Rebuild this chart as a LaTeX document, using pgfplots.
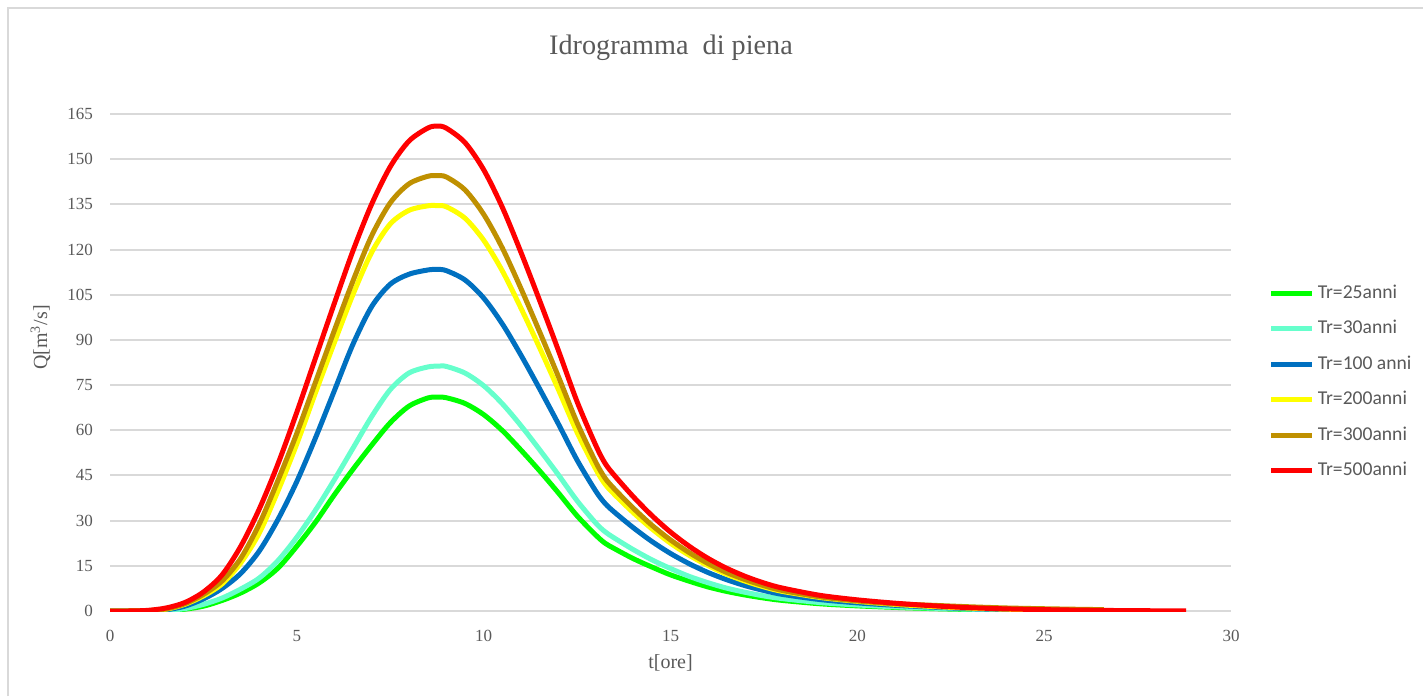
\documentclass[border=0pt]{standalone}
\usepackage{fontspec}
\setmainfont{Liberation Serif}
\newfontfamily\carlito{Carlito}
\usepackage{pgfplots}
\usepackage{pgfplotstable}
\pgfplotsset{compat=1.18}
\definecolor{cgreen}{HTML}{00FF00}
\definecolor{ccyan}{HTML}{66FFCC}
\definecolor{cblue}{HTML}{0070C0}
\definecolor{cyellow}{HTML}{FFFF00}
\definecolor{cbrown}{HTML}{BF9000}
\definecolor{cred}{HTML}{FF0000}
\definecolor{txt}{HTML}{595959}
\definecolor{gridc}{HTML}{D9D9D9}

\pgfplotstableread{
t Q
0 0
0.5 0
1.0 0
1.5 0.15
2.0 0.6
2.5 1.6
3.0 3.5
3.5 6
4.0 9.4
4.5 14.3
5.0 21.5
5.5 29.5
6.0 38.5
6.5 47
7.0 55
7.5 62.5
8.0 68
8.5 70.7
8.75 71
9.0 70.8
9.5 68.9
10.0 65.2
10.5 59.9
11.0 53.4
11.5 46.5
12.0 39.2
12.5 31.6
13.0 25.2
13.25 22.5
13.5 20.7
14.0 17.4
14.5 14.6
15.0 12.0
15.5 9.9
16.0 8.0
16.5 6.5
17.0 5.3
17.5 4.3
18.0 3.5
19.0 2.4
20.0 1.7
21.0 1.2
22.0 0.8
23.0 0.5
24.0 0.32
}\tgreen

\pgfplotstableread{
t Q
0 0
0.5 0
1.0 0
1.5 0.2
2.0 0.8
2.5 2.2
3.0 4.3
3.5 7.3
4.0 11
4.5 16.8
5.0 24.5
5.5 33.5
6.0 43.5
6.5 54
7.0 64.5
7.5 73.5
8.0 79
8.5 81
8.8 81.3
9.0 81.2
9.5 79.0
10.0 74.8
10.5 68.8
11.0 61.5
11.5 53.5
12.0 45.2
12.5 36.6
13.0 29.2
13.25 26.3
13.5 24.2
14.0 20.4
14.5 17.0
15.0 14.1
15.5 11.5
16.0 9.4
16.5 7.6
17.0 6.2
17.5 5.0
18.0 4.1
19.0 2.8
20.0 2.0
21.0 1.4
22.0 0.94
23.0 0.6
24.0 0.38
25.0 0.24
}\tcyan

\pgfplotstableread{
t Q
0 0
0.5 0
1.0 0.05
1.5 0.4
2.0 1.6
2.5 4
3.0 7.5
3.5 12.5
4.0 20
4.5 30.5
5.0 43
5.5 57.5
6.0 73
6.5 88.5
7.0 101
7.5 108.5
8.0 111.8
8.5 113.2
8.75 113.4
9.0 113.0
9.5 109.9
10.0 103.9
10.5 95.3
11.0 84.9
11.5 73.7
12.0 62.1
12.5 50.1
13.0 39.8
13.25 35.7
13.5 32.8
14.0 27.7
14.5 23.1
15.0 19.1
15.5 15.7
16.0 12.8
16.5 10.4
17.0 8.4
17.5 6.8
18.0 5.5
19.0 3.8
20.0 2.7
21.0 1.9
22.0 1.28
23.0 0.8
24.0 0.5
25.0 0.33
}\tblue

\pgfplotstableread{
t Q
0 0
0.5 0
1.0 0.1
1.5 0.6
2.0 2.2
2.5 5
3.0 9
3.5 16
4.0 26
4.5 40
5.0 55.5
5.5 72.5
6.0 89
6.5 105
7.0 119
7.5 128.5
8.0 133
8.5 134.5
8.75 134.6
9.0 134.2
9.5 130.4
10.0 123.1
10.5 112.9
11.0 100.5
11.5 87.3
12.0 73.5
12.5 59.3
13.0 47.1
13.25 42.1
13.5 38.7
14.0 32.7
14.5 27.3
15.0 22.5
15.5 18.5
16.0 15.1
16.5 12.2
17.0 9.9
17.5 8.0
18.0 6.5
19.0 4.5
20.0 3.2
21.0 2.2
22.0 1.5
23.0 0.95
24.0 0.6
25.0 0.39
26.0 0.24
}\tyellow

\pgfplotstableread{
t Q
0 0
0.5 0
1.0 0.1
1.5 0.7
2.0 2.4
2.5 5.5
3.0 10
3.5 17.5
4.0 29
4.5 43.5
5.0 59
5.5 76
6.0 93
6.5 109.5
7.0 124.5
7.5 135.5
8.0 141.8
8.5 144.3
8.75 144.5
9.0 144.1
9.5 139.8
10.0 131.7
10.5 120.5
11.0 107
11.5 92.6
12.0 77.8
12.5 62.5
13.0 49.4
13.25 44.1
13.5 40.5
14.0 34.2
14.5 28.5
15.0 23.6
15.5 19.4
16.0 15.8
16.5 12.8
17.0 10.4
17.5 8.4
18.0 6.8
19.0 4.7
20.0 3.35
21.0 2.4
22.0 1.9
23.0 1.4
24.0 1.0
25.0 0.75
26.0 0.55
26.6 0.45
}\tbrown

\pgfplotstableread{
t Q
0 0
0.5 0
1.0 0.2
1.5 1.0
2.0 2.8
2.5 6.3
3.0 12
3.5 21.5
4.0 34
4.5 49
5.0 66
5.5 84
6.0 102
6.5 119.5
7.0 135
7.5 147.5
8.0 156
8.5 160.3
8.75 161
9.0 160.3
9.5 155.5
10.0 146.5
10.5 134
11.0 119
11.5 103
12.0 86.5
12.5 69.5
13.0 55
13.25 49
13.5 45
14.0 38
14.5 31.7
15.0 26.2
15.5 21.5
16.0 17.5
16.5 14.2
17.0 11.5
17.5 9.3
18.0 7.6
19.0 5.2
20.0 3.7
21.0 2.6
22.0 1.75
23.0 1.1
24.0 0.7
25.0 0.45
26.0 0.28
27.0 0.15
28.0 0.07
28.8 0
}\tred

\begin{document}
\begin{tikzpicture}
\useasboundingbox (0,0) rectangle (711.5pt,348pt);
\draw[gridc, line width=1pt] (4pt,0) -- (4pt,344pt) -- (711.5pt,344pt);
\node[txt, font=\fontsize{14.1}{16}\selectfont] at (335.5pt,324pt) {Idrogramma\ \ di piena};
\begin{axis}[
  at={(55pt,42.5pt)}, anchor=south west,
  scale only axis, width=560.5pt, height=248.5pt,
  xmin=0, xmax=30, ymin=0, ymax=165,
  xtick={0,5,...,30}, ytick={0,15,...,165},
  axis line style={draw=none},
  major tick length=0pt,
  ymajorgrids, grid style={gridc, line width=1pt},
  extra y ticks={0}, extra y tick labels={}, extra y tick style={grid style={gridc,line width=1.2pt}},
  /pgf/number format/assume math mode=true,
  ticklabel style={font=\fontsize{8.5}{10}\selectfont, text=txt},
  xticklabel style={yshift=-6pt},
  yticklabel style={xshift=-5pt},
  xlabel={t[ore]}, ylabel={Q[m\textsuperscript{3}/s]},
  label style={font=\fontsize{10}{12}\selectfont, text=txt},
  x label style={at={(axis description cs:0.5,-0.104)}, anchor=center},
  y label style={at={(axis description cs:-0.062,0.55)}, anchor=center},
  legend style={draw=none, fill=none, at={(rel axis cs:1.028,0.461)}, anchor=west,
    font=\carlito\fontsize{9.8}{12}\selectfont, text=txt, row sep=6.5pt,
    nodes={inner sep=1.5pt}},
  legend cell align=left,
  legend image code/.code={\draw[#1, line width=2.5pt] (0pt,0pt) -- (20.5pt,0pt);},
  every axis plot/.append style={line width=2.5pt, line join=round, smooth, tension=0.5},
]
\addplot[cgreen] table {\tgreen};
\addlegendentry{Tr=25anni}
\addplot[ccyan] table {\tcyan};
\addlegendentry{Tr=30anni}
\addplot[cblue] table {\tblue};
\addlegendentry{Tr=100 anni}
\addplot[cyellow] table {\tyellow};
\addlegendentry{Tr=200anni}
\addplot[cbrown] table {\tbrown};
\addlegendentry{Tr=300anni}
\addplot[cred] table {\tred};
\addlegendentry{Tr=500anni}
\end{axis}
\end{tikzpicture}
\end{document}
